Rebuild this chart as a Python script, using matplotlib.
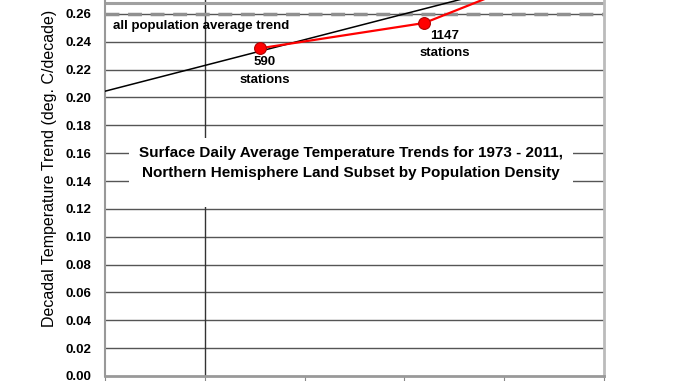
#!/usr/bin/python3

import matplotlib.pyplot as plt
from matplotlib.patches import Rectangle

# x positions are in log10(population density) units, 0 = the vertical axis line
station_x = [0.55, 2.20, 3.40]
station_trend = [0.2353, 0.2535, 0.2877]
station_labels = ["590\nstations", "1147\nstations"]

fit_x = [-1.0, 3.0]
fit_trend = [0.2045, 0.2785]

all_pop_avg = 0.2598
upper_avg = 0.2676

y_ticks = [0.00, 0.02, 0.04, 0.06, 0.08, 0.10, 0.12, 0.14, 0.16, 0.18,
           0.20, 0.22, 0.24, 0.26]
x_ticks = [-1, 0, 1, 2, 3, 4]


def plot_chart():
    plt.rcParams['font.family'] = ['Liberation Sans', 'DejaVu Sans']
    fig = plt.figure(figsize=(6.78, 3.81), dpi=100)
    ax = fig.add_axes([105 / 678, 5 / 381, 499 / 678, 376 / 381])
    ax.set_xlim(-1, 4)
    ax.set_ylim(0, 0.2700)

    for v in y_ticks[1:]:
        ax.axhline(v, color='#555555', lw=1, zorder=1)
    ax.axvline(0, color='#333333', lw=1, zorder=1)

    ax.axhline(upper_avg, color='#a0a0a0', lw=2.2, zorder=2)
    ax.axhline(all_pop_avg, color='#909090', lw=2.5, ls=(0, (4, 2.5)),
               zorder=2)

    ax.plot(fit_x, fit_trend, color='black', lw=1.1, zorder=3)
    ax.plot(station_x, station_trend, color='#ff0000', lw=1.6, marker='o',
            markersize=8.5, markerfacecolor='#ff0000',
            markeredgecolor='#b00000', markeredgewidth=0.8, zorder=4)

    ax.text(-0.92, 0.2515, "all population average trend", fontsize=9.5,
            fontweight='bold', va='center', ha='left', zorder=5)
    ax.text(station_x[0] + 0.05, 0.2295, station_labels[0], fontsize=9.5,
            fontweight='bold', ha='center', va='top', linespacing=1.6,
            zorder=5)
    ax.text(station_x[1] + 0.2, 0.2485, station_labels[1], fontsize=9.5,
            fontweight='bold', ha='center', va='top', linespacing=1.6,
            zorder=5)

    ax.add_patch(Rectangle((-0.76, 0.1214), 4.45, 0.0495, facecolor='white',
                           edgecolor='none', zorder=5))
    ax.text(1.465, 0.1530,
            "Surface Daily Average Temperature Trends for 1973 - 2011,\n"
            "Northern Hemisphere Land Subset by Population Density",
            fontsize=11, fontweight='bold', ha='center', va='center',
            linespacing=1.5, zorder=6)

    ax.set_yticks(y_ticks)
    ax.set_yticklabels(["%.2f" % v for v in y_ticks], fontsize=9.5,
                       fontweight='bold')
    ax.tick_params(axis='y', length=0, pad=10)
    ax.set_xticks(x_ticks)
    ax.set_xticklabels([])
    ax.tick_params(axis='x', direction='out', length=4, color='#888888')

    ax.spines['top'].set_visible(False)
    ax.spines['left'].set_color('#999999')
    ax.spines['left'].set_linewidth(1.5)
    ax.spines['right'].set_color('#bbbbbb')
    ax.spines['right'].set_linewidth(2)
    ax.spines['bottom'].set_color('#999999')
    ax.spines['bottom'].set_linewidth(2)

    fig.text(50 / 678, 1 - 168 / 381,
             "Decadal Temperature Trend (deg. C/decade)",
             rotation=90, fontsize=11.5, ha='center', va='center')

    fig.savefig("out.png", dpi=100)


def main():
    plot_chart()


if __name__ == "__main__":
    main()
